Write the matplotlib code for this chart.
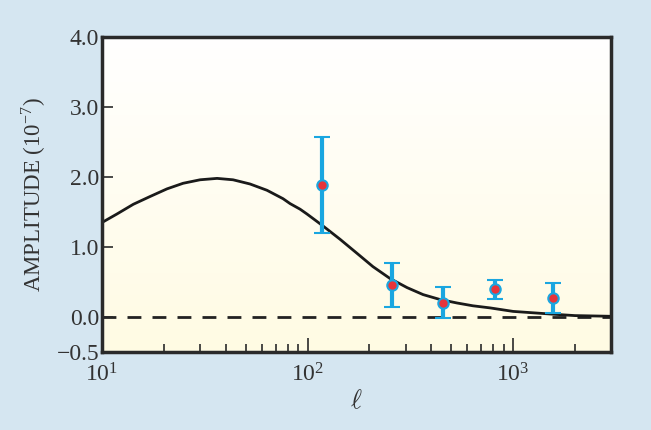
import numpy as np
import matplotlib.pyplot as plt
from matplotlib.colors import LinearSegmentedColormap

# model curve
curve_l = [10, 11.8, 14.2, 17.1, 20.7, 24.8, 30, 36.3, 43.4, 52.5, 63.5, 76, 82.2, 92, 99.5,
           119, 144, 174, 208, 252, 305, 365, 441, 534, 638, 773, 1000, 1250, 1564, 2000, 3000]
curve_amp = [1.35, 1.47, 1.61, 1.72, 1.83, 1.91, 1.96, 1.98, 1.96, 1.90, 1.81, 1.69, 1.62, 1.54, 1.47,
             1.30, 1.11, 0.91, 0.72, 0.55, 0.42, 0.32, 0.25, 0.20, 0.16, 0.13, 0.08, 0.06, 0.04, 0.02, 0.01]

# measured points
pt_l = [118, 259, 456, 818, 1564]
pt_amp = [1.89, 0.46, 0.20, 0.40, 0.27]
err_lo = [0.69, 0.32, 0.21, 0.14, 0.21]
err_hi = [0.68, 0.31, 0.23, 0.13, 0.22]

plt.rcParams['font.family'] = ['Liberation Serif', 'DejaVu Serif']
plt.rcParams['mathtext.fontset'] = 'custom'
plt.rcParams['mathtext.rm'] = 'Liberation Serif'
plt.rcParams['mathtext.it'] = 'DejaVu Serif:italic'

fig = plt.figure(figsize=(6.51, 4.30), dpi=100, facecolor='#d5e6f1')
ax = fig.add_axes([0.1567, 0.1814, 0.782, 0.7326])

# white -> pale yellow background
cmap = LinearSegmentedColormap.from_list('bg', ['#fffbe3', '#ffffff'])
ax.imshow(np.linspace(0, 1, 256).reshape(-1, 1), cmap=cmap, aspect='auto',
          extent=[0, 1, 0, 1], transform=ax.transAxes, origin='lower', zorder=0)

ax.axhline(0, color='#222222', lw=2, ls=(0, (5, 4)), zorder=1)
ax.plot(curve_l, curve_amp, color='#1a1a1a', lw=2, zorder=2)
ax.errorbar(pt_l, pt_amp, yerr=[err_lo, err_hi], fmt='o', color='#1aa6e0',
            ecolor='#1aa6e0', elinewidth=3, capsize=5.5, capthick=3,
            markersize=7.5, markerfacecolor='#e8343a', markeredgecolor='#1aa6e0',
            markeredgewidth=1.5, zorder=3)

ax.set_xscale('log')
ax.set_xlim(10, 3000)
ax.set_ylim(-0.5, 4.0)
ax.set_yticks([-0.5, 0.0, 1.0, 2.0, 3.0, 4.0])
ax.set_yticklabels(['\u22120.5', '0.0', '1.0', '2.0', '3.0', '4.0'])

for s in ax.spines.values():
    s.set_linewidth(2.5)
    s.set_color('#2a2a2a')

ax.tick_params(axis='both', which='both', direction='in', top=False, right=False,
               labelsize=17, colors='#2a2a2a', labelcolor='#333333')
ax.tick_params(axis='x', which='major', length=10, width=1.2, pad=8)
ax.tick_params(axis='x', which='minor', length=6, width=1.2)
ax.tick_params(axis='y', which='major', length=8, width=1.2, pad=2)

ax.set_ylabel(r'AMPLITUDE (10$^{-7}$)', fontsize=16.5, color='#333333', labelpad=6)
ax.set_xlabel(r'$\ell$', fontsize=19, color='#333333', labelpad=2)

fig.savefig('out.png', dpi=100, facecolor=fig.get_facecolor())
